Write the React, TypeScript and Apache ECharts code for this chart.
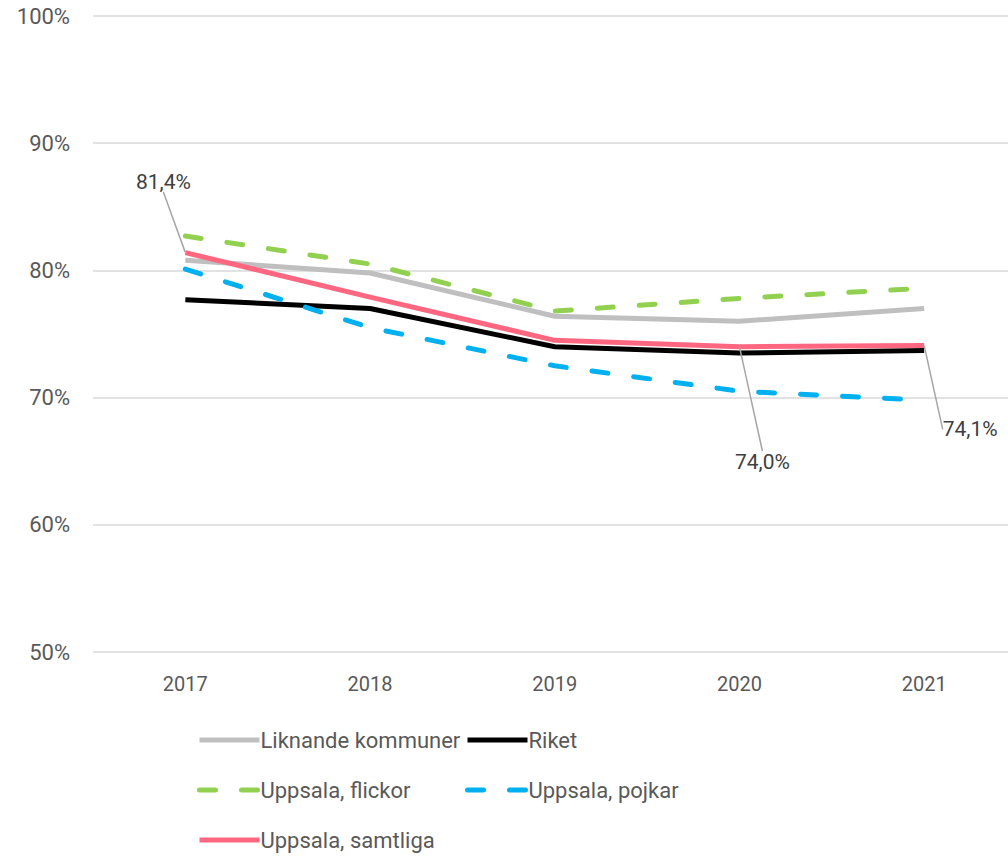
import React, { useEffect, useRef } from "react";
import * as echarts from "echarts";

const years = ["2017", "2018", "2019", "2020", "2021"];
const liknande = [80.8, 79.8, 76.4, 76.0, 77.0];
const riket = [77.7, 77.0, 74.0, 73.5, 73.7];
const flickor = [82.7, 80.5, 76.8, 77.8, 78.6];
const pojkar = [80.1, 75.5, 72.5, 70.5, 69.8];
const samtliga = [81.4, 77.9, 74.5, 74.0, 74.1];
const labelledIdx = [0, 3, 4];

const FONT = "Roboto";
const fmt = (v: number) => v.toFixed(1).replace(".", ",") + "%";

export default function App() {
  const ref = useRef<HTMLDivElement>(null);
  useEffect(() => {
    if (!ref.current) return;
    document.body.style.overflow = "hidden";
    const chart = echarts.init(ref.current, undefined, { renderer: "svg" });
    const dash = [16, 26];
    const mk = (name: string, data: any[], color: string, dashed: boolean, z: number) => ({
      name,
      type: "line",
      data,
      symbol: "circle",
      symbolSize: 1,
      showSymbol: true,
      z,
      lineStyle: {
        color,
        width: 5,
        type: dashed ? dash : "solid",
        cap: dashed ? "round" : "butt",
        join: "round",
      },
      itemStyle: { color: "rgba(0,0,0,0)", borderWidth: 0 },
      emphasis: { disabled: true },
    });
    const pinkSeries: any = mk(
      "Uppsala, samtliga",
      samtliga.map((v, i) =>
        labelledIdx.includes(i) ? { value: v, label: { show: true } } : { value: v }
      ),
      "#FF6680",
      false,
      6
    );
    pinkSeries.label = {
      show: false,
      formatter: (p: any) => fmt(p.value),
      fontFamily: FONT,
      fontSize: 21,
      color: "#404040",
      position: "inside",
    };
    pinkSeries.labelLine = {
      show: true,
      lineStyle: { color: "#A6A6A6", width: 1.5 },
    };
    pinkSeries.labelLayout = (p: any) => {
      const offs: Record<number, [number, number]> = {
        0: [-22, -71],
        3: [23, 115],
        4: [46, 84],
      };
      const o = offs[p.dataIndex] || [0, 0];
      return { dx: o[0], dy: o[1] };
    };

    const legendCommon = {
      orient: "vertical",
      top: 726,
      padding: 0,
      itemWidth: 60,
      itemHeight: 14,
      itemGap: 22,
      itemStyle: { opacity: 0 },
      lineStyle: { width: 5 },
      textStyle: {
        fontFamily: FONT,
        fontSize: 22,
        lineHeight: 28,
        color: "#595959",
        padding: [0, 0, 0, -4],
      },
    };

    chart.setOption({
      animation: false,
      backgroundColor: "#ffffff",
      grid: { left: 93, right: 13.5, top: 16, bottom: 206, containLabel: false },
      xAxis: {
        type: "category",
        data: years,
        boundaryGap: true,
        axisLine: { show: false },
        axisTick: { show: false },
        axisLabel: { fontFamily: FONT, fontSize: 20, color: "#595959", margin: 22 },
      },
      yAxis: {
        type: "value",
        min: 50,
        max: 100,
        interval: 10,
        axisLine: { show: false },
        axisTick: { show: false },
        axisLabel: {
          fontFamily: FONT,
          fontSize: 22,
          color: "#595959",
          margin: 23,
          formatter: "{value}%",
        },
        splitLine: { lineStyle: { color: "#D9D9D9", width: 1.5 } },
      },
      legend: [
        {
          ...legendCommon,
          left: 197,
          data: ["Liknande kommuner", "Uppsala, flickor", "Uppsala, samtliga"],
        },
        {
          ...legendCommon,
          left: 465,
          data: ["Riket", "Uppsala, pojkar"],
        },
      ],
      series: [
        mk("Liknande kommuner", liknande, "#BFBFBF", false, 2),
        mk("Riket", riket, "#000000", false, 3),
        mk("Uppsala, flickor", flickor, "#92D050", true, 4),
        mk("Uppsala, pojkar", pojkar, "#00B0F0", true, 5),
        pinkSeries,
      ],
    });
    return () => chart.dispose();
  }, []);
  return (
    <div
      ref={ref}
      style={{ position: "fixed", left: 0, top: 0, width: 1030, height: 858 }}
    />
  );
}
